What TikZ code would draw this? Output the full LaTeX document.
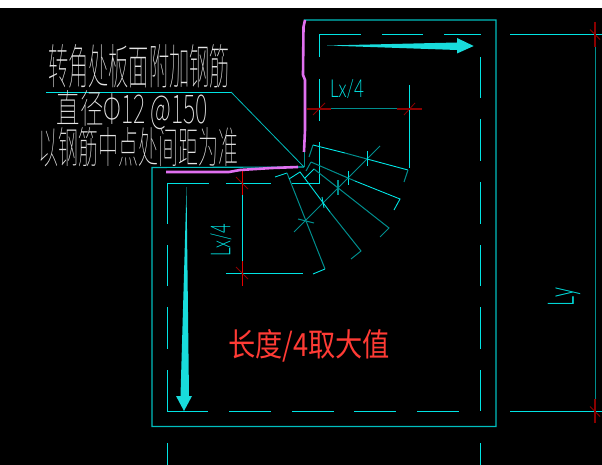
\documentclass[tikz,border=0pt]{standalone}
\usepackage{fontspec}
\usepackage{graphicx}
\newfontfamily\cjk{Noto Sans CJK SC}
\newfontfamily\cjkthin{Noto Sans CJK SC Thin}
\newfontfamily\cadfont{Lato Light}
\definecolor{cad}{HTML}{00E4E4}
\definecolor{cadmid}{HTML}{00BEBE}
\definecolor{cadteal}{HTML}{008E8E}
\definecolor{cadred}{HTML}{E60000}
\definecolor{cadmaroon}{HTML}{8C0000}
\definecolor{arrowcyan}{HTML}{18DCDC}
\definecolor{rebar}{HTML}{E070F0}
\definecolor{note}{HTML}{E4E4E4}
\definecolor{redtext}{HTML}{FF3B35}
\tikzset{
  thin cad/.style={draw=cad,line width=0.9pt},
  outline/.style={draw=cadmid,line width=1.1pt},
  tealline/.style={draw=cadteal,line width=1pt},
  redline/.style={draw=cadred,line width=1pt},
  maroon/.style={draw=cadmaroon,line width=1.4pt},
  tick/.style={draw=cadmaroon,line width=0.8pt},
  rebarline/.style={draw=rebar,line width=2.6pt,line join=round},
  lbl/.style={inner sep=0pt,outer sep=0pt,anchor=center},
}
\begin{document}
\begin{tikzpicture}[x=1pt,y=-1pt]
\useasboundingbox (0,0) rectangle (602,465);
\fill[black] (0,0) rectangle (602,465);
\fill[white] (0,0) rectangle (602,8.5);

% outer outline
\draw[outline] (304,20) -- (496,20) -- (496,426.5) -- (152,426.5) -- (152,167.5) -- (304,167);

% inner dashed rebar, top and right
\draw[thin cad] (319.5,57) -- (319.5,34.5) -- (361,34.5);
\draw[thin cad] (382,34.5) -- (423,34.5);
\draw[thin cad] (444,34.5) -- (481,34.5);
\foreach \a/\b in {57/98,119/161,182/224,245/286,307/349,370/411,443/465}
  \draw[thin cad] (480.5,\a) -- (480.5,\b);
\draw[thin cad] (319.5,79) -- (319.5,121);
\draw[thin cad] (319.5,142) -- (319.5,183) -- (292,183);
% bottom
\draw[thin cad] (167,370) -- (167,411.5) -- (208,411.5);
\foreach \a/\b in {229/271,292/334,354/396,417/459}
  \draw[thin cad] (\a,411.5) -- (\b,411.5);
\foreach \a/\b in {183/224,245/286,307/349,443/465}
  \draw[thin cad] (167,\a) -- (167,\b);
\draw[thin cad] (167,183) -- (209,183);
\draw[thin cad] (226,183) -- (271,183);

% Ly dimension
\draw[thin cad] (510,34.5) -- (602,34.5);
\draw[thin cad] (510,411.5) -- (602,411.5);
\draw[tealline] (595,47) -- (595,399);
\draw[maroon] (595,22) -- (595,47);
\draw[maroon] (595,399) -- (595,423);
\draw[tick] (590,29.5) -- (600,39.5);
\draw[tick] (590,406.5) -- (600,416.5);

% top Lx/4 dimension
\draw[thin cad] (409.5,85) -- (409.5,168);
\draw[tealline] (331,109) -- (397,109);
\draw[maroon] (307,109) -- (331,109);
\draw[maroon] (397,109) -- (422,109);
\draw[tick] (313,115) -- (325,103);
\draw[tick] (404,115) -- (415,103);

% left Lx/4 dimension
\draw[thin cad] (242,195) -- (242,261);
\draw[redline] (242,170) -- (242,195);
\draw[redline] (242,261) -- (242,286);
\draw[thin cad] (226,273) -- (303,273);
\draw[tick] (236,177) -- (248,189);
\draw[tick] (236,267) -- (248,279);

% stair walking line and ticks
\draw[tealline] (294,232) -- (380,146);
\draw[tealline] (298,219) -- (314,223);
\draw[thin cad] (322,197) -- (324,208);
\draw[draw=cadteal,line width=1.6pt] (338,180) -- (338,195);
\draw[thin cad] (348,171) -- (348,185);
\draw[thin cad] (367,151) -- (367,166);

% stair treads
\draw[thin cad] (275,177) -- (287,173);
\draw[tealline] (287,173) -- (325,269);
\draw[thin cad] (325,269) -- (313,274);
\draw[thin cad] (289,179) -- (300,172) -- (330,212);
\draw[tealline] (330,212) -- (361,251) -- (351,259);
\draw[thin cad] (305,178) -- (314,169);
\draw[tealline] (314,169) -- (389,228) -- (380,237);
\draw[tealline] (306,171) -- (311,162);
\draw[tealline] (311,162) -- (355,181);
\draw[thin cad] (355,181) -- (400,199) -- (394,210);
\draw[tealline] (309,157) -- (313,145);
\draw[thin cad] (313,145) -- (345,153);
\draw[tealline] (345,153) -- (367,159);
\draw[thin cad] (367,159) -- (408,170);
\draw[tealline] (408,170) -- (404,182);

% leader
\draw[thin cad] (46,92) -- (231,92);
\draw[draw=cadmid,line width=0.8pt] (231,92) -- (304,167);
\draw[tealline] (304,150) -- (304,167);

% rebar polylines
\draw[rebarline] (166,172) -- (229,172) -- (240,170) -- (272,168) -- (298,167);
\draw[rebarline] (305,20) -- (303.5,27) -- (303,75) -- (305,80) -- (305,130) -- (304,152);

% big arrows
\fill[arrowcyan] (327,45.5) -- (457,42.5) -- (457,38) -- (473.7,46) -- (457,53.5) -- (457,50) -- cycle;
\fill[arrowcyan] (186.5,187) -- (189,396) -- (192,396) -- (184,411) -- (176,396) -- (180.5,396) -- cycle;

% dimension labels
\node[lbl,text=cad] (lxtop) at (347,89) {\resizebox{34pt}{18pt}{\cadfont Lx/4}};
\node[lbl,text=cad,rotate=90] (lxleft) at (221,240) {\resizebox{33pt}{20pt}{\cadfont Lx/4}};
\node[lbl,text=cad,rotate=90] (ly) at (564,297) {\resizebox{18pt}{26pt}{\cadfont Ly}};

% notes
\node[lbl,text=note] (note1) at (139,66) {\resizebox{182pt}{40pt}{\cjkthin 转角处板面附加钢筋}};
\node[lbl,text=note] (note2) at (132.5,110) {\resizebox{151pt}{33pt}{\cjkthin 直径Φ12 @150}};
\node[lbl,text=note] (note3) at (138,147) {\resizebox{200pt}{36pt}{\cjkthin 以钢筋中点处间距为准}};
\node[lbl,text=redtext] (redlabel) at (309,345.5) {\resizebox{162pt}{27pt}{\cjk 长度/4取大值}};
\end{tikzpicture}
\end{document}
